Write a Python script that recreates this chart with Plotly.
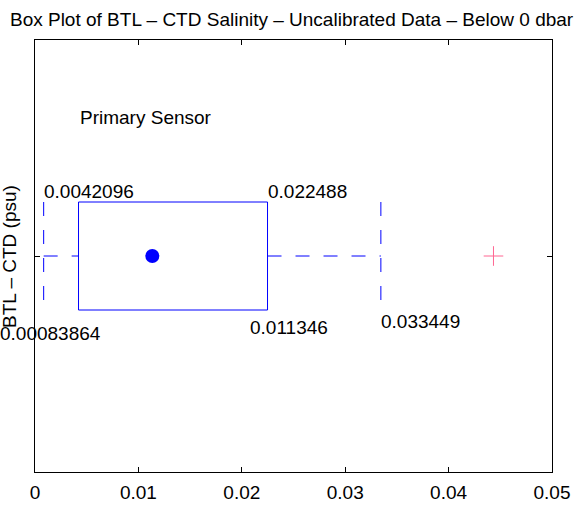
"""
Box plot of BTL - CTD salinity differences (MATLAB-style horizontal box).
"""

import plotly.graph_objects as go

# box statistics (psu)
LOWER_WHISKER = 0.00083864
Q1 = 0.0042096
MEDIAN = 0.011346
Q3 = 0.022488
UPPER_WHISKER = 0.033449
OUTLIERS = [0.04434]

X_TICKS = [0, 0.01, 0.02, 0.03, 0.04, 0.05]
X_TICK_LABELS = ["0", "0.01", "0.02", "0.03", "0.04", "0.05"]

FONT = "Liberation Sans, Arial, Helvetica, sans-serif"
FS = 19
BLUE = "#0000FF"
POS = 1.0      # box position on the y axis
HALF = 0.25    # half box height

fig = go.Figure()

# box
fig.add_trace(go.Scatter(
    x=[Q1, Q3, Q3, Q1, Q1],
    y=[POS - HALF, POS - HALF, POS + HALF, POS + HALF, POS - HALF],
    mode="lines", line=dict(color=BLUE, width=1), hoverinfo="skip",
))

# whiskers
dash = dict(color=BLUE, width=1, dash="14px,14px")
for xs, ys in [
    ([LOWER_WHISKER, Q1], [POS, POS]),
    ([Q3, UPPER_WHISKER], [POS, POS]),
    ([LOWER_WHISKER, LOWER_WHISKER], [POS + HALF, POS - HALF]),
    ([UPPER_WHISKER, UPPER_WHISKER], [POS + HALF, POS - HALF]),
]:
    fig.add_trace(go.Scatter(x=xs, y=ys, mode="lines", line=dash, hoverinfo="skip"))

# median marker
fig.add_trace(go.Scatter(
    x=[MEDIAN], y=[POS], mode="markers",
    marker=dict(color=BLUE, size=14, symbol="circle"),
))

# outliers
fig.add_trace(go.Scatter(
    x=OUTLIERS, y=[POS] * len(OUTLIERS), mode="markers",
    marker=dict(symbol="cross-thin-open", size=14, line=dict(color="red", width=1)),
))

labels = [
    (LOWER_WHISKER, 1.298, f"{Q1:.5g}", -2),
    (Q3, 1.298, f"{Q3:.5g}", -2),
    (LOWER_WHISKER, 0.641, f"{LOWER_WHISKER:.5g}", -46),
    (0.02082, 0.669, f"{MEDIAN:.5g}", -2),
    (UPPER_WHISKER, 0.696, f"{UPPER_WHISKER:.5g}", -2),
    (0.00432, 1.640, "Primary Sensor", -2),
]
for x, y, txt, shift in labels:
    fig.add_annotation(
        x=x, y=y, xref="x", yref="y", text=txt, showarrow=False, xshift=shift,
        xanchor="left", yanchor="middle", font=dict(size=FS, color="black"),
    )

# y axis label
fig.add_annotation(
    x=-0.0503, y=0.5, xref="paper", yref="paper", text="BTL – CTD (psu)",
    showarrow=False, textangle=-90, xanchor="center", yanchor="middle",
    font=dict(size=FS, color="black"),
)

axis = dict(
    showline=True, linecolor="black", linewidth=1, mirror="ticks",
    ticks="inside", ticklen=5, tickcolor="black",
    showgrid=False, zeroline=False, automargin=False,
)

fig.update_layout(
    width=582, height=506,
    margin=dict(l=35, r=30, t=40, b=34),
    paper_bgcolor="white", plot_bgcolor="white",
    showlegend=False,
    font=dict(family=FONT, size=FS, color="black"),
    title=dict(
        text="Box Plot of BTL – CTD Salinity – Uncalibrated Data – Below 0 dbar",
        x=0.501, xanchor="center", y=1 - 19 / 506, yanchor="middle",
        font=dict(size=FS, color="black"),
        automargin=False,
    ),
    xaxis=dict(axis, range=[0, 0.05], tickvals=X_TICKS, ticktext=X_TICK_LABELS,
               ticklabelstandoff=3),
    yaxis=dict(axis, range=[0, 2], tickvals=[POS], showticklabels=False),
)

# drop the default page margin so the figure sits at the window origin
fig.write_html(
    "out.html",
    config={"displayModeBar": False},
    post_script="document.body.style.margin = '0';",
)
